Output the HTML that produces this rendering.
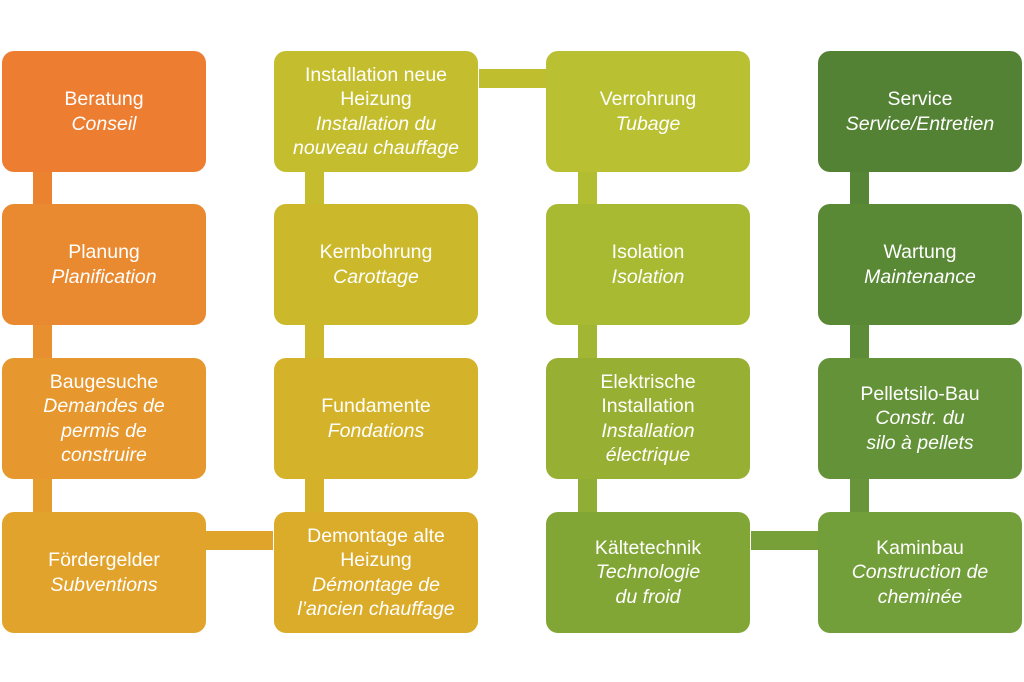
<!DOCTYPE html>
<html><head><style>
html,body{margin:0;padding:0;background:#fff;}
body{width:1024px;height:682px;position:relative;overflow:hidden;font-family:"Liberation Sans",sans-serif;}
.b{position:absolute;width:204px;height:121px;border-radius:12px;color:#fff;display:flex;flex-direction:column;justify-content:center;align-items:center;text-align:center;font-size:19.5px;line-height:24.5px;white-space:nowrap;}
.b i{font-style:italic;}
.c{position:absolute;}
</style></head><body>
<div class="c" style="left:33px;top:172px;width:19px;height:32px;background:#EB8230"></div>
<div class="c" style="left:33px;top:325px;width:19px;height:33px;background:#E8902F"></div>
<div class="c" style="left:33px;top:479px;width:19px;height:33px;background:#E49C2D"></div>
<div class="c" style="left:206px;top:531px;width:67px;height:19px;background:#E0A42B"></div>
<div class="c" style="left:305px;top:172px;width:19px;height:32px;background:#C6BD2E"></div>
<div class="c" style="left:305px;top:325px;width:19px;height:33px;background:#CDB82B"></div>
<div class="c" style="left:305px;top:479px;width:19px;height:33px;background:#D5B12A"></div>
<div class="c" style="left:479px;top:69px;width:67px;height:19px;background:#BFBE2F"></div>
<div class="c" style="left:578px;top:172px;width:19px;height:32px;background:#B2BD31"></div>
<div class="c" style="left:578px;top:325px;width:19px;height:33px;background:#A2B633"></div>
<div class="c" style="left:578px;top:479px;width:19px;height:33px;background:#90AD35"></div>
<div class="c" style="left:751px;top:531px;width:67px;height:19px;background:#78A038"></div>
<div class="c" style="left:850px;top:172px;width:19px;height:32px;background:#558535"></div>
<div class="c" style="left:850px;top:325px;width:19px;height:33px;background:#5C8C37"></div>
<div class="c" style="left:850px;top:479px;width:19px;height:33px;background:#68953A"></div>
<div class="b" style="left:2px;top:51px;background:#ED7D31">Beratung<i>Conseil</i></div>
<div class="b" style="left:2px;top:204px;background:#EA8A30">Planung<i>Planification</i></div>
<div class="b" style="left:2px;top:358px;background:#E6972E">Baugesuche<i>Demandes de<br>permis de<br>construire</i></div>
<div class="b" style="left:2px;top:512px;background:#E2A32C">Fördergelder<i>Subventions</i></div>
<div class="b" style="left:274px;top:51px;background:#C4BE2F">Installation neue<br>Heizung<i>Installation du<br>nouveau chauffage</i></div>
<div class="b" style="left:274px;top:204px;background:#CBB92B">Kernbohrung<i>Carottage</i></div>
<div class="b" style="left:274px;top:358px;background:#D4B32A">Fundamente<i>Fondations</i></div>
<div class="b" style="left:274px;top:512px;background:#DBAB2A">Demontage alte<br>Heizung<i>Démontage de<br>l’ancien chauffage</i></div>
<div class="b" style="left:546px;top:51px;background:#B9C031">Verrohrung<i>Tubage</i></div>
<div class="b" style="left:546px;top:204px;background:#A8BA32">Isolation<i>Isolation</i></div>
<div class="b" style="left:546px;top:358px;background:#97B034">Elektrische<br>Installation<i>Installation<br>électrique</i></div>
<div class="b" style="left:546px;top:512px;background:#82A636">Kältetechnik<i>Technologie<br>du froid</i></div>
<div class="b" style="left:818px;top:51px;background:#548235">Service<i>Service/Entretien</i></div>
<div class="b" style="left:818px;top:204px;background:#5A8936">Wartung<i>Maintenance</i></div>
<div class="b" style="left:818px;top:358px;background:#649239">Pelletsilo-Bau<i>Constr. du<br>silo à pellets</i></div>
<div class="b" style="left:818px;top:512px;background:#739F3A">Kaminbau<i>Construction de<br>cheminée</i></div>
</body></html>
